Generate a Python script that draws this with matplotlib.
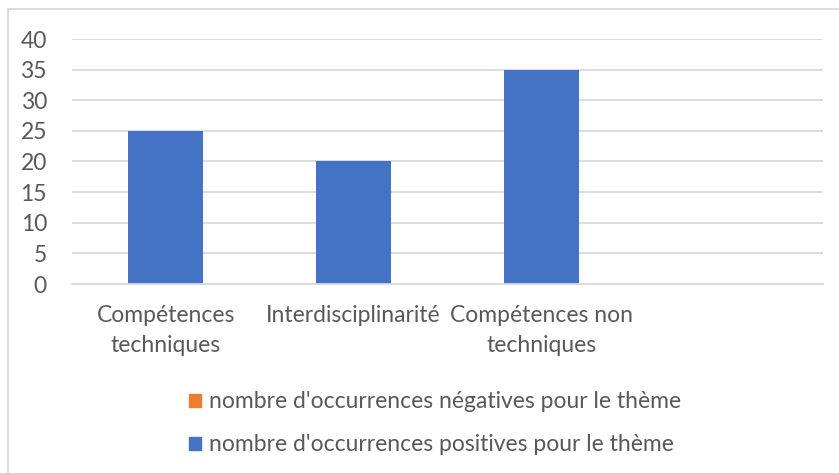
import matplotlib
matplotlib.use("Agg")
import matplotlib.pyplot as plt
from matplotlib.patches import Rectangle, Patch

categories = ["Compétences\ntechniques", "Interdisciplinarité", "Compétences non\ntechniques", ""]
negatives = [0, 0, 0, 0]
positives = [25, 20, 35, 0]
y_ticks = [0, 5, 10, 15, 20, 25, 30, 35, 40]
series_labels = ["nombre d'occurrences négatives pour le thème",
                 "nombre d'occurrences positives pour le thème"]

BLUE = "#4472C4"
ORANGE = "#ED7D31"
GRID = "#D9D9D9"
TEXT = "#595959"

plt.rcParams["font.family"] = ["Lato", "DejaVu Sans"]

W, H = 839, 473
fig = plt.figure(figsize=(W / 100, H / 100), dpi=100)
fig.patches.append(Rectangle((8 / W, 0 - 0.05), 1.1, 1 - 9 / H + 0.05,
                             transform=fig.transFigure, fill=False,
                             edgecolor=GRID, linewidth=1.3))

ax = fig.add_axes([72 / W, 1 - 284 / H, (823 - 72) / W, (284 - 39) / H])
x = range(len(categories))
ax.bar(x, negatives, width=0.4, color=ORANGE, linewidth=0)
ax.bar(x, positives, width=0.4, bottom=negatives, color=BLUE, linewidth=0)

ax.set_xlim(-0.5, len(categories) - 0.5)
ax.set_ylim(0, 40)
ax.set_yticks(y_ticks)
ax.set_xticks(list(x))
ax.set_xticklabels(categories, linespacing=1.55)
ax.tick_params(axis="both", length=0, labelsize=16.5, labelcolor=TEXT)
ax.tick_params(axis="x", pad=15)
ax.tick_params(axis="y", pad=18)
ax.grid(axis="y", color=GRID, linewidth=1.3)
ax.set_axisbelow(True)
for side in ["top", "right", "left"]:
    ax.spines[side].set_visible(False)
ax.spines["bottom"].set_color(GRID)
ax.spines["bottom"].set_linewidth(1.3)

handles = [Patch(color=ORANGE), Patch(color=BLUE)]
fig.legend(handles, series_labels, loc="upper center",
           bbox_to_anchor=(435 / W, 1 - 380 / H), frameon=False,
           fontsize=16.5, labelcolor=TEXT, handlelength=0.5, handleheight=0.5,
           handletextpad=0.35, labelspacing=0.95, borderpad=0)

fig.savefig("out.png", dpi=100)
